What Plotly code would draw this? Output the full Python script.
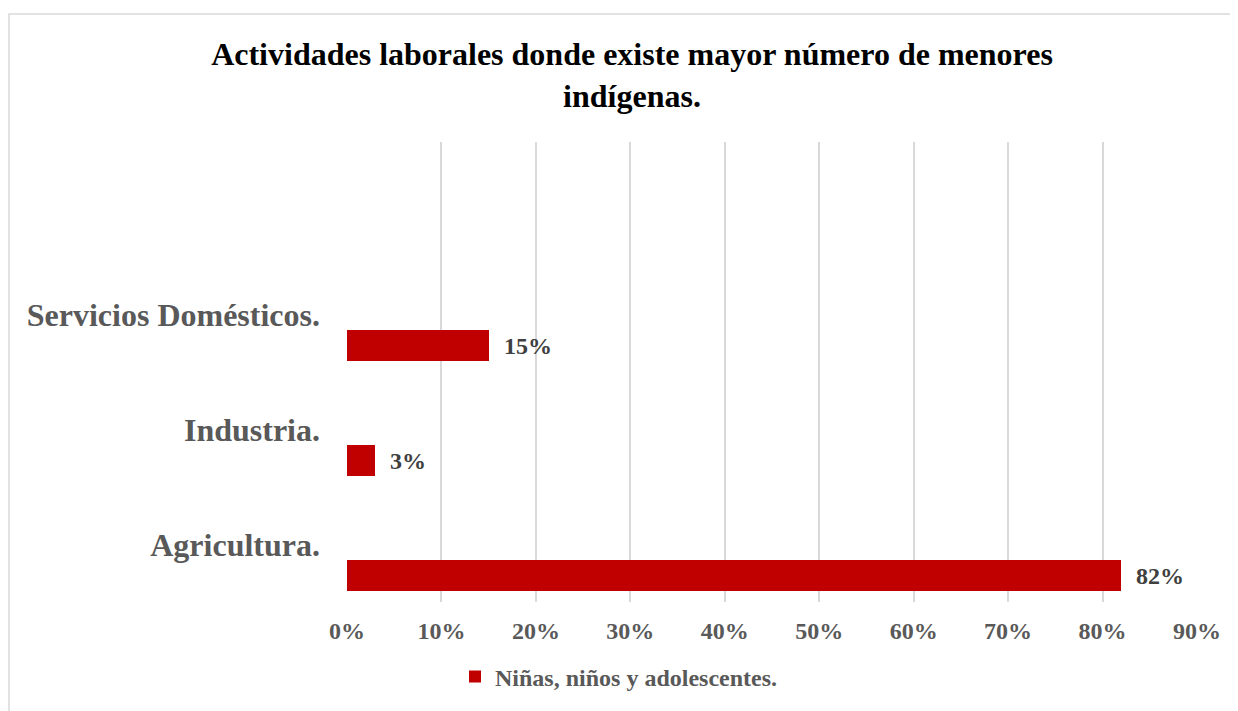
import plotly.graph_objects as go

# datos del gráfico
categorias = ["Agricultura.", "Industria.", "Servicios Domésticos.", ""]
porcentajes = [0.82, 0.03, 0.15]
serie = "Niñas, niños y adolescentes."
ticks_x = [0, 0.1, 0.2, 0.3, 0.4, 0.5, 0.6, 0.7, 0.8, 0.9]

FUENTE = "Liberation Serif, Times New Roman, serif"
ROJO = "#C00000"
GRIS = "#595959"

# la página añade 8 px de margen al cuerpo; se compensa aquí
DESPL = 8
W, H = 1238, 711
izq, der, arr, aba = 347 - DESPL, 1197 - DESPL, 142 - DESPL, 602 - DESPL
ancho, alto = der - izq, aba - arr

fig = go.Figure()

# barras horizontales (desplazadas bajo la etiqueta de categoría, como en Excel)
fig.add_trace(
    go.Bar(
        x=porcentajes,
        y=list(range(len(porcentajes))),
        orientation="h",
        name=serie,
        marker=dict(color=ROJO, line=dict(width=0)),
        width=0.27,
        offset=-0.405,
        text=[f"\u00a0\u00a0{v:.0%}" for v in porcentajes],
        textposition="outside",
        textfont=dict(family=FUENTE, size=24, color="#404040", weight="bold"),
        cliponaxis=False,
    )
)

# marco del área del gráfico
fig.add_shape(
    type="rect",
    xref="paper",
    yref="paper",
    x0=(9 - DESPL - izq) / ancho,
    x1=(W + 20 - izq) / ancho,
    y0=(aba - (H + 20)) / alto,
    y1=(aba - (14 - DESPL)) / alto,
    line=dict(color="#D9D9D9", width=1.5),
    layer="below",
)

fig.update_layout(
    width=W,
    height=H,
    margin=dict(l=izq, r=W - der, t=arr, b=H - aba, autoexpand=False),
    paper_bgcolor="white",
    plot_bgcolor="white",
    title=dict(
        text="Actividades laborales donde existe mayor número de menores<br>indígenas.",
        x=(632 - DESPL) / W,
        xanchor="center",
        y=1 - 57 / H,
        yanchor="top",
        font=dict(family=FUENTE, size=32, color="black", weight="bold"),
    ),
    xaxis=dict(
        range=[0, 0.9],
        tickvals=ticks_x,
        tickformat=".0%",
        showgrid=True,
        gridcolor="#D9D9D9",
        gridwidth=1.5,
        zeroline=False,
        showline=False,
        ticks="",
        ticklabelstandoff=12,
        tickfont=dict(family=FUENTE, size=24, color=GRIS, weight="bold"),
        fixedrange=True,
    ),
    yaxis=dict(
        range=[-0.5, 3.5],
        tickvals=list(range(len(categorias))),
        ticktext=categorias,
        showgrid=False,
        zeroline=False,
        showline=False,
        ticks="",
        ticklabelstandoff=26,
        tickfont=dict(family=FUENTE, size=32, color=GRIS, weight="bold"),
        fixedrange=True,
    ),
    showlegend=True,
    legend=dict(
        orientation="h",
        xref="container",
        yref="container",
        x=(619 - DESPL) / W,
        xanchor="center",
        y=1 - (677 - DESPL) / H,
        yanchor="middle",
        font=dict(family=FUENTE, size=24, color=GRIS, weight="bold"),
        itemwidth=30,
    ),
    bargap=0,
)

fig.write_html("out.html")
